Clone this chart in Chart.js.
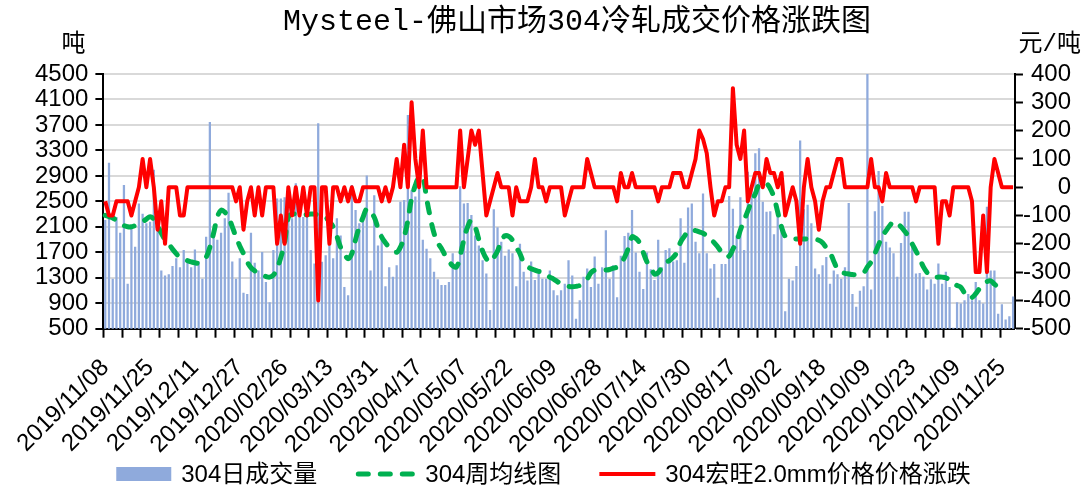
<!DOCTYPE html>
<html>
<head>
<meta charset="utf-8">
<script src="https://cdn.jsdelivr.net/npm/chart.js@4.4.1/dist/chart.umd.min.js"></script>
<style>
  html, body { margin: 0; padding: 0; background: #fff; }
  #wrap { width: 1087px; height: 488px; position: relative; }
</style>
</head>
<body>
<div id="wrap"><canvas id="c"></canvas></div>
<script>
const chartTitle = 'Mysteel-佛山市场304冷轧成交价格涨跌图';
const unitLeft = '吨';
const unitRight = '元/吨';
const seriesNames = ['304日成交量', '304周均线图', '304宏旺2.0mm价格价格涨跌'];

// x-axis tick labels (one every LABEL_STEP trading days)
const tickLabels = ['2019/11/08','2019/11/25','2019/12/11','2019/12/27','2020/02/26','2020/03/13','2020/03/31',
  '2020/04/17','2020/05/07','2020/05/22','2020/06/09','2020/06/28','2020/07/14','2020/07/30','2020/08/17',
  '2020/09/02','2020/09/18','2020/10/09','2020/10/23','2020/11/09','2020/11/25'];
const LABEL_STEP = 12;
const TICK_MARK_STEP = 5;

// daily volume (吨), left axis
const volume = [
  2200,3100,1280,2250,2000,2750,1200,2100,1780,2460,
  2300,2150,2175,2990,2100,1410,1330,1350,1480,1600,
  1460,1730,1560,1460,1740,1550,1280,1940,3740,1940,
  1890,2000,2230,2630,1550,1280,1600,1060,1040,2000,
  1530,1410,1700,1230,910,1730,2540,2540,2560,2515,
  2230,2780,2360,2250,2280,1730,1520,3720,1545,1650,
  2200,1600,2230,1960,1150,1020,2750,2360,2150,2280,
  2900,1410,2590,1800,1990,1160,1460,1310,1490,2490,
  2515,3850,2670,2570,2750,1890,1750,1600,1390,1270,
  1180,1180,1230,1680,1460,2730,2460,2470,2280,1960,
  1800,1570,1360,790,2370,2090,1860,1640,1740,1680,
  1160,1830,1390,1250,1550,1260,1360,1280,1280,1410,
  1100,1020,1100,1200,1570,1330,650,940,1310,1440,
  1150,1630,1200,1460,2040,1280,1490,990,1640,1950,
  2000,2360,1690,1390,1120,1690,1430,1260,1890,1460,
  1730,1760,1550,1570,2230,1530,2400,2460,1860,1680,
  2620,1680,1440,1510,980,1510,1510,2580,2380,1960,
  2560,1730,2960,2750,3250,3330,2490,2330,2340,1980,
  2260,2070,770,1280,1250,1480,3450,2370,2440,2150,
  1440,1350,1490,1620,1200,1410,1350,1280,1460,2470,
  1040,840,1090,1160,4500,1110,2340,2970,2420,1860,
  1770,1680,1310,1840,2330,2330,1790,1360,1370,1310,
  1110,1270,1200,1520,1200,1390,1150,510,910,890,
  940,1040,940,1230,940,890,2410,1410,1410,730,
  880,640,690,1000
];

// weekly average (吨), left axis
const weeklyAvg = [
  2280,2260,2240,2200,2150,2120,2100,2100,2120,2150,
  2180,2220,2260,2220,2120,2000,1900,1830,1750,1680,
  1620,1590,1570,1550,1535,1530,1560,1620,1780,2000,
  2250,2360,2330,2250,2100,1940,1800,1680,1550,1460,
  1410,1370,1340,1320,1310,1340,1450,1620,1850,2250,
  2300,2300,2300,2290,2290,2300,2300,2290,2290,2250,
  2180,2100,1950,1780,1680,1600,1680,1900,2100,2250,
  2380,2330,2250,2080,1940,1850,1780,1740,1700,1780,
  1940,2200,2550,2750,2880,2880,2550,2250,2000,1850,
  1760,1650,1560,1490,1470,1650,1900,2100,2200,2100,
  1900,1720,1600,1545,1620,1720,1880,1960,1950,1890,
  1780,1680,1540,1480,1440,1420,1400,1390,1350,1310,
  1280,1240,1200,1180,1165,1160,1165,1180,1220,1280,
  1380,1420,1420,1420,1420,1430,1450,1470,1530,1620,
  1760,1940,1920,1850,1700,1550,1470,1360,1380,1470,
  1540,1570,1620,1700,1860,1950,2030,2050,2040,2020,
  2000,1960,1900,1850,1780,1700,1640,1640,1750,1860,
  2050,2200,2350,2500,2620,2760,2790,2780,2700,2560,
  2330,2100,1950,1920,1910,1910,1910,1910,1905,1900,
  1900,1890,1850,1770,1700,1560,1440,1390,1370,1360,
  1350,1350,1350,1380,1470,1550,1680,1820,1950,2040,
  2120,2185,2150,2100,2030,1950,1830,1720,1600,1470,
  1380,1320,1310,1310,1310,1300,1260,1210,1180,1150,
  1060,980,990,1050,1130,1200,1240,1250,1200,1150,
  1100,null,null,null
];

// price change (元/吨), right axis
const priceChange = [
  -50,-100,-100,-50,-50,-50,-50,-100,-50,0,
  100,0,100,0,-150,-50,-200,0,0,0,
  -100,-100,0,0,0,0,0,0,0,0,
  0,0,0,0,0,-50,0,-150,-50,0,
  -100,0,-100,0,0,0,-200,-100,-200,0,
  -100,0,-100,0,-100,0,0,-400,0,0,
  -200,0,0,-50,0,-50,0,-50,-50,0,
  0,0,0,0,-50,0,-50,0,100,0,
  150,0,300,100,0,200,0,0,0,0,
  0,0,0,0,0,200,0,100,200,150,
  200,50,-100,-50,0,50,0,0,0,-100,
  0,-50,-50,-50,0,100,0,0,-50,0,
  0,0,0,-100,-50,0,0,0,0,100,
  50,0,0,0,0,0,0,-50,50,0,
  0,50,0,0,0,0,0,0,-50,0,
  0,0,50,50,50,0,0,50,100,200,
  170,120,0,-100,-50,-50,0,0,350,150,
  100,200,-50,0,50,50,0,100,50,50,
  0,50,-100,-50,0,-50,-200,0,100,0,
  -50,-150,-50,0,0,50,100,100,0,0,
  0,0,0,0,0,100,0,0,-50,50,
  0,0,0,0,0,0,0,-50,0,0,
  0,0,0,-200,-50,-50,-100,0,0,0,
  0,0,-50,-300,-300,-100,-300,0,100,50,
  0,0,0,0
];

// trading-day categories: each labelled date followed by the next weekdays
function shiftWeekdays(label, k) {
  const [y, m, d] = label.split('/').map(Number);
  const dt = new Date(Date.UTC(y, m - 1, d));
  while (k > 0) {
    dt.setUTCDate(dt.getUTCDate() + 1);
    const wd = dt.getUTCDay();
    if (wd !== 0 && wd !== 6) k--;
  }
  return dt.getUTCFullYear() + '/' + String(dt.getUTCMonth() + 1).padStart(2, '0') + '/' + String(dt.getUTCDate()).padStart(2, '0');
}
const categories = volume.map((_, i) => shiftWeekdays(tickLabels[Math.floor(i / LABEL_STEP)], i % LABEL_STEP));

const BAR_COLOR = '#8FAADC';
const GREEN = '#00B050';
const RED = '#FF0000';
const AXIS_FONT = { family: "'Liberation Sans', Arial, sans-serif", size: 24 };

const extrasPlugin = {
  id: 'extras',
  afterDraw(chart) {
    const ctx = chart.ctx;
    const a = chart.chartArea;
    ctx.save();
    ctx.fillStyle = '#000';
    ctx.textBaseline = 'middle';

    // title
    ctx.font = "30px 'Liberation Mono', 'Noto Sans CJK SC'";
    ctx.textAlign = 'center';
    ctx.fillText(chartTitle, 577, 22);

    // unit labels above the axes
    ctx.font = "24px 'Liberation Mono', 'Noto Sans CJK SC'";
    ctx.textAlign = 'right';
    ctx.fillText(unitLeft, a.left - 18, a.top - 29);
    ctx.fillText(unitRight, a.right + 66, a.top - 29);

    // legend
    const ds = chart.data.datasets;
    ctx.font = "24px 'Liberation Sans', 'Noto Sans CJK SC'";
    ctx.textAlign = 'left';
    const swW = [55, 60, 56], gapText = 10, gapItem = 38;
    const tw = ds.map(d => ctx.measureText(d.label).width);
    let total = 0;
    ds.forEach((d, i) => { total += swW[i] + gapText + tw[i]; });
    total += gapItem * (ds.length - 1);
    let x = (chart.width - total) / 2;
    const y = 474;
    ds.forEach((d, i) => {
      if (d.type === 'bar') {
        ctx.fillStyle = d.backgroundColor;
        ctx.fillRect(x, y - 7, swW[i], 14);
      } else {
        ctx.beginPath();
        ctx.strokeStyle = d.borderColor;
        ctx.lineWidth = d.borderWidth;
        ctx.lineCap = d.borderCapStyle || 'butt';
        ctx.setLineDash(d.borderDash || []);
        const inset = d.borderDash ? 3 : 0;
        ctx.moveTo(x + inset, y);
        ctx.lineTo(x + swW[i] - inset, y);
        ctx.stroke();
        ctx.setLineDash([]);
      }
      ctx.fillStyle = '#000';
      ctx.fillText(d.label, x + swW[i] + gapText, y + 1);
      x += swW[i] + gapText + tw[i] + gapItem;
    });
    ctx.restore();
  }
};

new Chart(document.getElementById('c'), {
  type: 'bar',
  data: {
    labels: categories,
    datasets: [
      {
        type: 'bar', label: seriesNames[0], data: volume, yAxisID: 'y',
        backgroundColor: BAR_COLOR, barThickness: 1.6, order: 3
      },
      {
        type: 'line', label: seriesNames[1], data: weeklyAvg, yAxisID: 'y',
        borderColor: GREEN, backgroundColor: GREEN, borderWidth: 5, pointRadius: 0,
        borderDash: [10, 12], borderCapStyle: 'round', tension: 0.4, order: 2
      },
      {
        type: 'line', label: seriesNames[2], data: priceChange, yAxisID: 'y1',
        borderColor: RED, backgroundColor: RED, borderWidth: 4, pointRadius: 0,
        tension: 0, borderJoinStyle: 'round', order: 1
      }
    ]
  },
  options: {
    responsive: true,
    maintainAspectRatio: false,
    animation: false,
    devicePixelRatio: 1,
    layout: { padding: { left: 28, right: 16, top: 74, bottom: 13 } },
    plugins: {
      legend: { display: false },
      tooltip: { enabled: false },
      title: { display: false }
    },
    scales: {
      x: {
        offset: true,
        border: { display: true, color: '#000', width: 2 },
        grid: {
          display: true, drawOnChartArea: false, drawTicks: true, tickLength: 9, tickWidth: 2,
          color: 'rgba(0,0,0,0)',
          tickColor: (c) => (c.index !== undefined && c.index % TICK_MARK_STEP === 0 ? '#000' : 'rgba(0,0,0,0)')
        },
        ticks: {
          autoSkip: false, minRotation: 45, maxRotation: 45, padding: 16, color: '#000', font: AXIS_FONT,
          callback: function (v, i) { return i % LABEL_STEP === 0 ? this.getLabelForValue(v) : ''; }
        }
      },
      y: {
        position: 'left', min: 500, max: 4500,
        border: { display: true, color: '#000', width: 2 },
        grid: { color: '#D9D9D9', lineWidth: 2, tickColor: '#000', tickLength: 8, tickWidth: 2 },
        ticks: { stepSize: 400, autoSkip: false, padding: 7, color: '#000', font: AXIS_FONT, callback: v => String(v) }
      },
      y1: {
        position: 'right', min: -500, max: 400,
        border: { display: true, color: '#000', width: 2 },
        grid: { drawOnChartArea: false, tickColor: '#000', tickLength: 8, tickWidth: 2 },
        ticks: { stepSize: 100, autoSkip: false, padding: 0, crossAlign: 'far', color: '#000', font: AXIS_FONT, callback: v => String(v) }
      }
    }
  },
  plugins: [extrasPlugin]
});
</script>
</body>
</html>
